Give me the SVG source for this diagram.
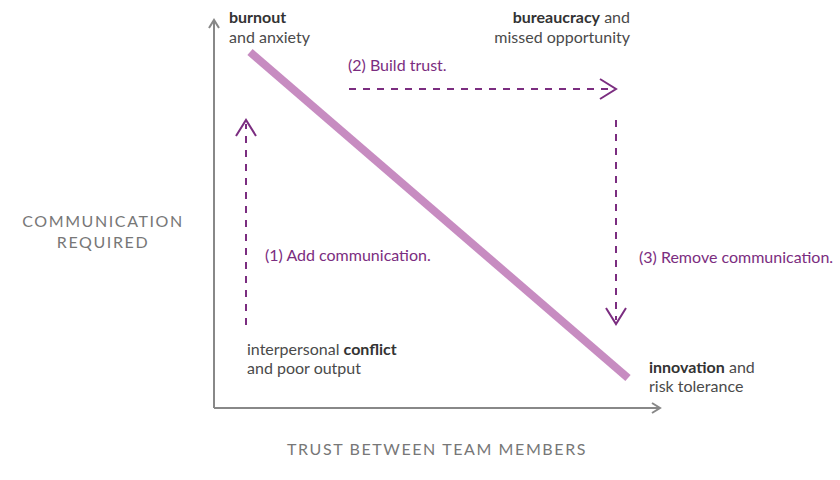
<svg xmlns="http://www.w3.org/2000/svg" width="840" height="480" viewBox="0 0 840 480">
<style>
text{font-family:Lato,"Noto Sans",sans-serif;}
.lbl{font-size:16px;fill:#4a4a4a;}
.lbl .b{font-weight:bold;fill:#333;}
.step{font-size:16px;fill:#7b2d80;}
.axt{font-size:16px;fill:#777;letter-spacing:1.6px;}
.axis{stroke:#888;stroke-width:2;fill:none;}
.dash{stroke:#7b2d80;stroke-width:2;fill:none;stroke-dasharray:7 7;}
.head{stroke:#7b2d80;stroke-width:2;fill:none;}
</style>
<rect width="840" height="480" fill="#fff"/>
<g id="axes">
<path class="axis" d="M214,408 V20 M209,28 L214,20 L219,28"/>
<path class="axis" d="M214,408 H660 M652,403 L660,408 L652,413"/>
<text class="axt" x="103" y="227" text-anchor="middle">COMMUNICATION</text>
<text class="axt" x="103" y="248" text-anchor="middle">REQUIRED</text>
<text class="axt" x="437" y="455" text-anchor="middle">TRUST BETWEEN TEAM MEMBERS</text>
</g>
<g id="curve">
<line x1="250" y1="52" x2="628" y2="378" stroke="#c78cc1" stroke-width="8"/>
</g>
<g id="burnout"><text class="lbl" x="229" y="23"><tspan class="b">burnout</tspan></text><text class="lbl" x="229" y="43">and anxiety</text></g>
<g id="bureaucracy"><text class="lbl" x="630" y="23" text-anchor="end"><tspan class="b">bureaucracy</tspan> and</text><text class="lbl" x="630" y="43" text-anchor="end">missed opportunity</text></g>
<g id="conflict"><text class="lbl" x="247" y="355">interpersonal <tspan class="b">conflict</tspan></text><text class="lbl" x="247" y="374">and poor output</text></g>
<g id="innovation"><text class="lbl" x="649" y="373"><tspan class="b">innovation</tspan> and</text><text class="lbl" x="649" y="392">risk tolerance</text></g>
<g id="connectors">
<path class="dash" d="M246,325 V124"/>
<path class="head" d="M236,136 L246,120 L256,136"/>
<path class="dash" d="M349,89 H612"/>
<path class="head" d="M600,79 L616,89 L600,99"/>
<path class="dash" d="M616,120 V320"/>
<path class="head" d="M606,308 L616,324 L626,308"/>
</g>
<g id="steps">
<text class="step" x="265" y="261">(1) Add communication.</text>
<text class="step" x="348" y="71">(2) Build trust.</text>
<text class="step" x="639" y="263">(3) Remove communication.</text>
</g>
</svg>
